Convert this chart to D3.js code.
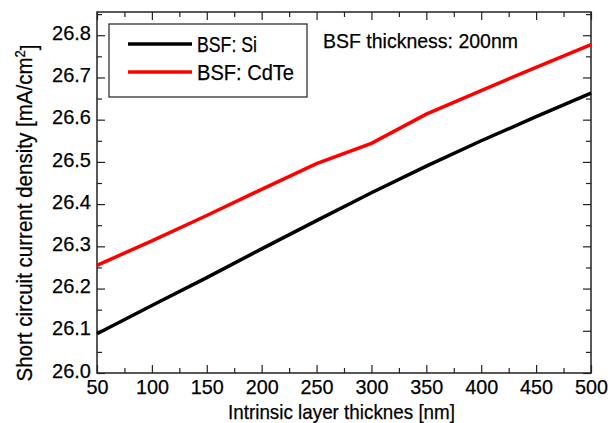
<!DOCTYPE html>
<html>
<head>
<meta charset="utf-8">
<script src="https://cdn.jsdelivr.net/npm/d3@7"></script>
<style>
  body { margin: 0; background: #fff; }
  text { font-family: "Liberation Sans", Arial, sans-serif; fill: #000; stroke: #000; stroke-width: 0.25px; }
</style>
</head>
<body>
<div id="place"></div>
<script>
(function() {

	const thickness = [50, 100, 150, 200, 250, 300, 350, 400, 450, 500];
	const jscSi   = [26.093, 26.160, 26.226, 26.294, 26.361, 26.427, 26.490, 26.550, 26.607, 26.663];
	const jscCdTe = [26.255, 26.313, 26.373, 26.435, 26.496, 26.544, 26.613, 26.669, 26.724, 26.778];
	const seriesNames = ["BSF: Si", "BSF: CdTe"];
	const seriesColors = ["#000", "#f00"];
	const xTicks = [50, 100, 150, 200, 250, 300, 350, 400, 450, 500];
	const yTicks = [26.0, 26.1, 26.2, 26.3, 26.4, 26.5, 26.6, 26.7, 26.8];

	const W = 611, H = 423;
	const margin = { top: 12, right: 20, bottom: 50, left: 97 },
		  width = W - margin.left - margin.right,
		  height = H - margin.top - margin.bottom;

	let svg = d3.select("#place").append("svg")
		.attr('width', W)
		.attr('height', H)

	let g = svg.append('g')
		.attr('transform', 'translate(' + margin.left + ',' + margin.top + ')')

	const x = d3.scaleLinear().domain([50, 500]).range([0, width]);
	const y = d3.scaleLinear().domain([26.0, 26.855]).range([height, 0]);

	const xMinor = d3.range(75, 500, 50);
	const yMinor = d3.range(26.05, 26.85, 0.1);

	// frame
	g.append('rect')
		.attr('width', width)
		.attr('height', height)
		.attr('fill', 'none')
		.attr('stroke', '#222')
		.attr('stroke-width', 1.5)

	const noDomain = sel => sel.select('.domain').remove();

	// bottom / top ticks, pointing inward
	g.append('g').attr('transform', 'translate(0,' + height + ')')
		.call(d3.axisBottom(x).tickValues(xTicks).tickSize(-8).tickFormat(d3.format('d')).tickPadding(6))
		.call(noDomain)
		.call(a => a.selectAll('text')
			.attr('font-size', 21)
			.attr('textLength', d => String(d).length * 11)
			.attr('lengthAdjust', 'spacingAndGlyphs'));
	g.append('g').attr('transform', 'translate(0,' + height + ')')
		.call(d3.axisBottom(x).tickValues(xMinor).tickSize(-5).tickFormat(''))
		.call(noDomain);
	g.append('g')
		.call(d3.axisTop(x).tickValues(xTicks).tickSize(-8).tickFormat(''))
		.call(noDomain);
	g.append('g')
		.call(d3.axisTop(x).tickValues(xMinor).tickSize(-5).tickFormat(''))
		.call(noDomain);

	// left / right ticks
	g.append('g')
		.call(d3.axisLeft(y).tickValues(yTicks).tickSize(-8).tickFormat(d3.format('.1f')).tickPadding(6))
		.call(noDomain)
		.call(a => a.selectAll('text')
			.attr('font-size', 21)
			.attr('dy', '0.2em')
			.attr('textLength', 39)
			.attr('lengthAdjust', 'spacingAndGlyphs'));
	g.append('g')
		.call(d3.axisLeft(y).tickValues(yMinor).tickSize(-5).tickFormat(''))
		.call(noDomain);
	g.append('g').attr('transform', 'translate(' + width + ',0)')
		.call(d3.axisRight(y).tickValues(yTicks).tickSize(-8).tickFormat(''))
		.call(noDomain);
	g.append('g').attr('transform', 'translate(' + width + ',0)')
		.call(d3.axisRight(y).tickValues(yMinor).tickSize(-5).tickFormat(''))
		.call(noDomain);

	g.selectAll('.tick line').attr('stroke', '#222').attr('stroke-width', 1.2);

	// curves
	const line = d3.line().x((d, i) => x(thickness[i])).y(d => y(d));
	[jscSi, jscCdTe].forEach((s, k) => {
		g.append('path')
			.datum(s)
			.attr('d', line)
			.attr('fill', 'none')
			.attr('stroke', seriesColors[k])
			.attr('stroke-width', 3.5)
	});

	// legend
	const legendWidths = [60, 97];
	let lg = svg.append('g').attr('transform', 'translate(109,24)');
	lg.append('rect')
		.attr('width', 198)
		.attr('height', 73)
		.attr('fill', '#fff')
		.attr('stroke', '#222')
		.attr('stroke-width', 1.2)
	seriesNames.forEach((n, k) => {
		lg.append('line')
			.attr('x1', 19).attr('x2', 83)
			.attr('y1', 20 + k * 28).attr('y2', 20 + k * 28)
			.attr('stroke', seriesColors[k])
			.attr('stroke-width', 3.5)
		lg.append('text')
			.attr('x', 88).attr('y', 20 + k * 28)
			.attr('dy', '0.36em')
			.attr('font-size', 22)
			.attr('textLength', legendWidths[k])
			.attr('lengthAdjust', 'spacingAndGlyphs')
			.text(n)
	});

	svg.append('text')
		.attr('x', 323).attr('y', 48)
		.attr('font-size', 21)
		.attr('textLength', 195)
		.attr('lengthAdjust', 'spacingAndGlyphs')
		.text('BSF thickness: 200nm')

	// axis titles
	svg.append('text')
		.attr('x', 228).attr('y', 419)
		.attr('font-size', 21)
		.attr('textLength', 227)
		.attr('lengthAdjust', 'spacingAndGlyphs')
		.text('Intrinsic layer thicknes [nm]')

	let yt = svg.append('text')
		.attr('transform', 'translate(32,213) rotate(-90)')
		.attr('text-anchor', 'middle')
		.attr('font-size', 22)
		.attr('textLength', 337)
		.attr('lengthAdjust', 'spacingAndGlyphs')
	yt.append('tspan').text('Short circuit current density [mA/cm')
	yt.append('tspan').attr('dy', '-0.5em').attr('font-size', 14).text('2')
	yt.append('tspan').attr('dy', '0.5em').text(']')

})()
</script>
</body>
</html>
